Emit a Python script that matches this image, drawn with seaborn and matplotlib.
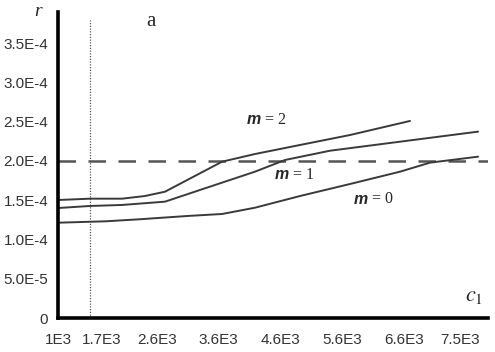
import numpy as np
import pandas as pd
import matplotlib
matplotlib.use("Agg")
import matplotlib.pyplot as plt
import seaborn as sns

# Data
c_m2 = [1000, 1517, 2035, 2407, 2730, 3652, 4185, 4913, 5721, 6691]
r_m2 = [1.503e-4, 1.52e-4, 1.52e-4, 1.554e-4, 1.609e-4, 1.991e-4, 2.089e-4, 2.204e-4, 2.331e-4, 2.51e-4]
c_m1 = [1000, 1517, 2035, 2730, 3296, 4185, 4670, 5398, 6530, 7791]
r_m1 = [1.401e-4, 1.427e-4, 1.44e-4, 1.482e-4, 1.631e-4, 1.864e-4, 2.013e-4, 2.131e-4, 2.246e-4, 2.374e-4]
c_m0 = [1000, 1776, 2326, 3102, 3652, 4185, 4913, 5721, 6530, 7015, 7791]
r_m0 = [1.214e-4, 1.232e-4, 1.258e-4, 1.3e-4, 1.325e-4, 1.405e-4, 1.554e-4, 1.707e-4, 1.864e-4, 1.979e-4, 2.055e-4]

x_ticks = [1000, 1700, 2600, 3600, 4600, 5600, 6600, 7500]
x_ticklabels = ["1E3", "1.7E3", "2.6E3", "3.6E3", "4.6E3", "5.6E3", "6.6E3", "7.5E3"]
y_ticks = [0, 5e-5, 1e-4, 1.5e-4, 2e-4, 2.5e-4, 3e-4, 3.5e-4]
y_ticklabels = ["0", "5.0E-5", "1.0E-4", "1.5E-4", "2.0E-4", "2.5E-4", "3.0E-4", "3.5E-4"]
threshold = 2e-4
c_vline = 1520

df = pd.concat([
    pd.DataFrame({"c": c_m2, "r": r_m2, "m": "2"}),
    pd.DataFrame({"c": c_m1, "r": r_m1, "m": "1"}),
    pd.DataFrame({"c": c_m0, "r": r_m0, "m": "0"}),
])

sns.set_theme(style="white")
plt.rcParams['font.family'] = ['Liberation Sans', 'DejaVu Sans']

fig = plt.figure(figsize=(4.95, 3.52), dpi=100)
ax = fig.add_axes([58/495, 34/352, 430/495, 306/352])

sns.lineplot(data=df, x="c", y="r", hue="m", palette=["#3a3a3a"]*3,
             linewidth=1.4, legend=False, ax=ax, estimator=None, sort=False)

ax.axhline(threshold, color="#555555", lw=1.8, dashes=(7, 5), zorder=1)
ax.axvline(c_vline, ymin=0, ymax=(298/306), color="#555555", lw=0.9,
           linestyle=(0, (1, 1.2)), zorder=1)

ax.set_xlim(1000, 7952)
ax.set_ylim(0, 3.898e-4)
ax.set_xticks(x_ticks)
ax.set_xticklabels(x_ticklabels)
ax.set_yticks(y_ticks)
ax.set_yticklabels(y_ticklabels)
ax.tick_params(length=0, labelsize=11, colors="#333333")
ax.tick_params(axis="x", pad=11)
ax.tick_params(axis="y", pad=7)
ax.set_xlabel("")
ax.set_ylabel("")

for s in ["top", "right"]:
    ax.spines[s].set_visible(False)
for s in ["left", "bottom"]:
    ax.spines[s].set_color("black")
    ax.spines[s].set_linewidth(2.6)

serif = ['Liberation Serif', 'DejaVu Serif']
fig.text(38/495, 1 - 12/352, "r", fontsize=14, style="italic", family=serif,
         ha="center", va="center")
fig.text(474/495, 1 - 296/352, r"$c_1$", fontsize=16, ha="center", va="center",
         math_fontfamily="stix")
fig.text(151/495, 1 - 21/352, "a", fontsize=15, family=serif, ha="center", va="center")

def mlabel(x, y, num):
    fig.text(x/495, 1 - y/352, "m", fontsize=11.5, weight="bold", style="italic",
             family=['Liberation Sans'], ha="left", va="center")
    fig.text((x + 14)/495, 1 - y/352, " = " + num, fontsize=11.5, family=serif,
             ha="left", va="center")

mlabel(247, 120, "2")
mlabel(275, 175, "1")
mlabel(354, 199, "0")

fig.savefig("out.png", dpi=100)
